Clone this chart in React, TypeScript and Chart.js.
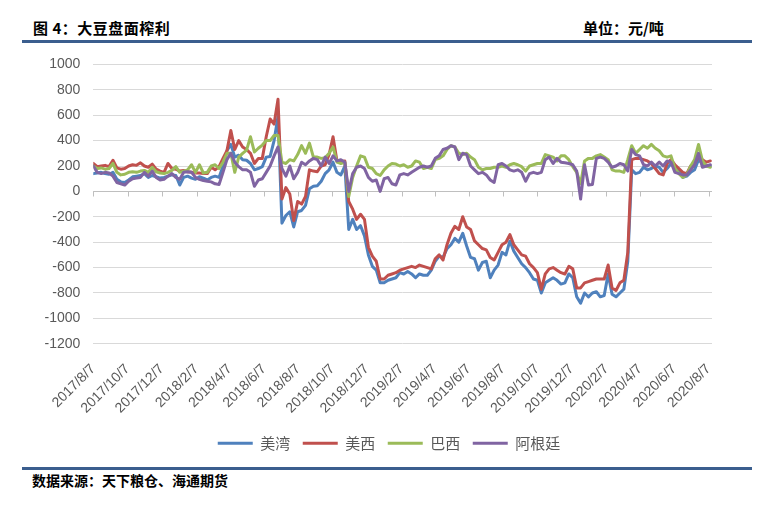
import React, { useEffect, useRef } from 'react';
import { Chart, registerables } from 'chart.js';

Chart.register(...registerables);

const seriesNames = ['美湾', '美西', '巴西', '阿根廷'];
const seriesColors = ['#4F81BD', '#C0504D', '#9BBB59', '#8064A2'];

// weekly samples starting at startDate
const startDate = '2017/8/7';
const sampleStepDays = 7;
const xMaxDays = 1102;

const tickLabels = [
  '2017/8/7', '2017/10/7', '2017/12/7', '2018/2/7', '2018/4/7', '2018/6/7',
  '2018/8/7', '2018/10/7', '2018/12/7', '2019/2/7', '2019/4/7', '2019/6/7',
  '2019/8/7', '2019/10/7', '2019/12/7', '2020/2/7', '2020/4/7', '2020/6/7', '2020/8/7',
];

const yMin = -1200;
const yMax = 1000;
const yStep = 200;

const usGulf = [
  140, 145, 150, 140, 135, 150, 95, 75, 70, 90,
  115, 120, 125, 140, 110, 125, 115, 105, 110, 120,
  130, 125, 50, 110, 120, 105, 95, 115, 105, 90,
  110, 120, 110, 200, 320, 370, 270, 285, 250, 245,
  220, 170, 180, 195, 270, 275, 400, 590, -250, -190,
  -160, -280, -160, -150, -110, 20, 40, 45, 80, 140,
  170, 230, 150, 130, 200, -300, -220, -300, -270, -350,
  -500, -590, -620, -720, -720, -700, -690, -680, -640, -650,
  -630, -650, -680, -650, -660, -660, -620, -550, -510, -520,
  -450, -420, -370, -400, -330, -430, -520, -530, -620, -560,
  -550, -680, -620, -580, -480, -500, -390, -470, -520, -570,
  -600, -640, -690, -700, -800, -720, -700, -680, -700, -730,
  -720, -650, -680, -830, -880, -800, -830, -800, -790, -830,
  -820, -650, -810, -830, -800, -770, -550, 170, 140, 150,
  190, 170, 180, 200, 190, 150, 180, 220, 200, 170,
  110, 120, 150, 170, 250, 220, 200, 200,
];

const usWest = [
  220, 195, 200, 205, 195, 245, 185, 175, 180, 200,
  210, 205, 225, 200, 190, 215, 175, 160, 150, 220,
  180, 175, 160, 165, 155, 150, 145, 145, 140, 140,
  190, 170, 195, 260, 320, 480, 330, 400, 350, 330,
  300, 220, 260, 260, 430, 570, 530, 725, -60, 30,
  -20, -230, -80, -100, -40, 170, 160, 155, 200, 210,
  290, 430, 240, 235, 240, -80, -140, -220, -180, -220,
  -440, -510, -550, -690, -690, -660, -650, -640, -620, -610,
  -600, -590, -600, -580, -590, -600, -610, -530, -500, -540,
  -420, -330, -275, -300, -200, -280, -300, -390, -420, -450,
  -460, -520, -540, -480, -420, -400, -340, -420, -460, -500,
  -510, -570, -600, -640, -770, -650, -610, -600, -620, -640,
  -650, -590, -610, -760, -760, -720, -710, -700, -690, -690,
  -690, -580, -760, -780, -720, -700, -480, 250, 260, 260,
  250, 240, 220, 180, 140, 130, 220, 250, 210, 180,
  150, 140, 200, 220, 280, 250, 230, 240,
];

const brazil = [
  200, 180, 185, 175, 180, 220, 150, 130, 135, 150,
  155, 150, 160, 165, 150, 190, 155, 145, 140, 150,
  165, 195, 150, 160, 170, 210, 150, 210, 145, 150,
  200, 210, 180, 230, 300, 300, 150, 270, 300, 325,
  430, 310, 340, 365, 400, 400, 440, 440, 230, 220,
  250, 240, 290, 360, 300, 380, 270, 270, 260, 265,
  300, 350, 230, 220, 230, -40, 110, 200, 280, 270,
  190, 180, 140, 125, 170, 200, 220, 215, 200, 210,
  190, 200, 240, 230, 180, 190, 180, 250, 260, 280,
  330, 360, 350, 300, 290, 300, 270, 250, 190, 170,
  180, 180, 190, 190, 200, 190, 210, 220, 210, 195,
  160, 200, 210, 220, 220, 290, 280, 270, 240, 280,
  280, 250, 195, 150, 60, 240, 260, 260, 280, 290,
  270, 250, 170, 160, 160, 150, 250, 360, 300, 330,
  360, 340, 370, 340, 320, 280, 270, 280, 180, 140,
  110, 130, 200, 250, 370, 240, 200, 190,
];

const argentina = [
  200, 150, 140, 150, 145, 120, 70, 60, 50, 80,
  100, 105, 110, 150, 120, 160, 110, 90, 95, 120,
  140, 110, 95, 150, 155, 150, 110, 95, 85, 80,
  75, 60, 55, 150, 250, 300, 230, 195, 170, 170,
  150, 40, 90, 100, 150, 200, 280, 350, 180, 120,
  200, 100, 150, 230, 210, 240, 260, 250, 200, 270,
  220, 280, 240, 250, 230, 0, 140, 190, 200, 180,
  110, 80, 90, 0, 100, 110, 60, 50, 130, 140,
  130, 150, 170, 190, 200, 190, 200, 260, 280, 330,
  340, 360, 350, 250, 300, 290, 200, 170, 140, 150,
  130, 90, 70, 210, 220, 200, 170, 160, 170, 150,
  80, 140, 150, 140, 150, 250, 270, 220, 260, 230,
  225, 220, 210, 160, -60, 210, 50, 55, 260, 270,
  260, 230, 190, 200, 220, 210, 160, 330, 290, 280,
  210, 200, 230, 200, 230, 200, 240, 230, 150, 140,
  130, 130, 170, 210, 300, 190, 200, 210,
];

const seriesValues = [usGulf, usWest, brazil, argentina];

const titleText = '图 4：大豆盘面榨利';
const unitText = '单位：元/吨';
const sourceText = '数据来源：天下粮仓、海通期货';

function parseDay(s: string): number {
  const [y, m, d] = s.split('/').map(Number);
  return Date.UTC(y, m - 1, d);
}
const day0 = parseDay(startDate);
const tickDays = tickLabels.map((l) => Math.round((parseDay(l) - day0) / 86400000));

const AXIS_FONT = "'Liberation Sans', Arial, sans-serif";
const CJK_FONT = "'Noto Sans CJK SC', sans-serif";
const BAR_COLOR = '#3B5E8E';

const zeroAxisPlugin = {
  id: 'zeroAxis',
  beforeDatasetsDraw(chart: any) {
    const { ctx, chartArea, scales } = chart;
    const x = scales.x;
    const y = scales.y;
    const y0 = Math.round(y.getPixelForValue(0)) + 0.5;
    ctx.save();
    ctx.strokeStyle = '#BFBFBF';
    ctx.lineWidth = 1;
    ctx.beginPath();
    ctx.moveTo(chartArea.left, y0);
    ctx.lineTo(chartArea.right, y0);
    tickDays.forEach((d) => {
      const px = Math.round(x.getPixelForValue(d)) + 0.5;
      ctx.moveTo(px, y0);
      ctx.lineTo(px, y0 + 5);
    });
    ctx.stroke();
    ctx.restore();
  },
};

export default function App() {
  const canvasRef = useRef<HTMLCanvasElement | null>(null);

  useEffect(() => {
    const canvas = canvasRef.current;
    if (!canvas) return;
    const datasets = seriesNames.map((name, i) => ({
      label: name,
      data: seriesValues[i].map((v, k) => ({ x: k * sampleStepDays, y: v })),
      borderColor: seriesColors[i],
      backgroundColor: seriesColors[i],
      borderWidth: 3,
      pointRadius: 0,
      pointHoverRadius: 0,
      tension: 0,
      borderJoinStyle: 'round' as const,
      borderCapStyle: 'round' as const,
      order: seriesNames.length - i,
      yAxisID: 'y',
    }));

    const chart = new Chart(canvas, {
      type: 'line',
      data: { datasets },
      plugins: [zeroAxisPlugin],
      options: {
        animation: false,
        responsive: false,
        devicePixelRatio: 1,
        layout: { padding: { left: 15, right: 0, top: 4.4, bottom: 8.3 } },
        plugins: {
          tooltip: { enabled: false },
          legend: {
            position: 'bottom',
            labels: {
              boxWidth: 35,
              boxHeight: 3,
              padding: 12.5,
              color: '#595959',
              font: { family: CJK_FONT, size: 15 },
              sort: (a: any, b: any) => a.datasetIndex - b.datasetIndex,
              generateLabels: (ch: any) =>
                ch.data.datasets.map((ds: any, i: number) => ({
                  text: ds.label,
                  fillStyle: ds.borderColor,
                  strokeStyle: ds.borderColor,
                  lineWidth: 0,
                  hidden: false,
                  datasetIndex: i,
                  fontColor: '#595959',
                })),
            },
          },
        },
        scales: {
          x: {
            type: 'linear',
            min: 0,
            max: xMaxDays,
            grid: { display: false, drawTicks: false },
            border: { display: false },
            afterBuildTicks: (axis: any) => {
              axis.ticks = tickDays.map((v) => ({ value: v }));
            },
            afterFit: (s: any) => {
              s.height = 79.4;
            },
            ticks: {
              autoSkip: false,
              minRotation: 45,
              maxRotation: 45,
              padding: 17,
              color: '#595959',
              font: { family: AXIS_FONT, size: 14 },
              callback: (_v: any, index: number) => tickLabels[index],
            },
          },
          y: {
            type: 'linear',
            position: 'left',
            min: yMin,
            max: yMax,
            grid: { color: '#D9D9D9', lineWidth: 1, drawTicks: false },
            border: { display: false },
            afterFit: (s: any) => {
              s.width = 78.3;
            },
            ticks: {
              stepSize: yStep,
              padding: 13,
              color: '#595959',
              font: { family: AXIS_FONT, size: 14 },
              callback: (v: any) => String(v),
            },
          },
          y2: {
            type: 'linear',
            position: 'right',
            display: true,
            grid: { display: false, drawTicks: false },
            border: { display: false },
            ticks: { display: false },
            afterFit: (s: any) => {
              s.width = 51;
            },
          },
        },
      },
    } as any);

    return () => {
      chart.destroy();
    };
  }, []);

  const abs = (style: React.CSSProperties): React.CSSProperties => ({ position: 'absolute', ...style });

  return (
    <div style={abs({ left: 0, top: 0, width: 763, height: 507, background: '#fff' })}>
      <canvas ref={canvasRef} width={763} height={426} style={abs({ left: 0, top: 42.7, width: 763, height: 426 })} />
      <div
        style={abs({
          left: 33, top: 20, fontFamily: CJK_FONT, fontWeight: 700, fontSize: 15,
          lineHeight: '15px', letterSpacing: '0.5px', color: '#000', whiteSpace: 'nowrap',
        })}
      >
        {titleText}
      </div>
      <div
        style={abs({
          left: 583, top: 20, fontFamily: CJK_FONT, fontWeight: 700, fontSize: 15,
          lineHeight: '15px', color: '#000', whiteSpace: 'nowrap',
        })}
      >
        {unitText}
      </div>
      <div style={abs({ left: 22, top: 39.5, width: 730, height: 3, background: BAR_COLOR })} />
      <div style={abs({ left: 22, top: 466.5, width: 730, height: 3, background: BAR_COLOR })} />
      <div
        style={abs({
          left: 32, top: 472.5, fontFamily: CJK_FONT, fontWeight: 700, fontSize: 14,
          lineHeight: '14px', color: '#000', whiteSpace: 'nowrap',
        })}
      >
        {sourceText}
      </div>
    </div>
  );
}
